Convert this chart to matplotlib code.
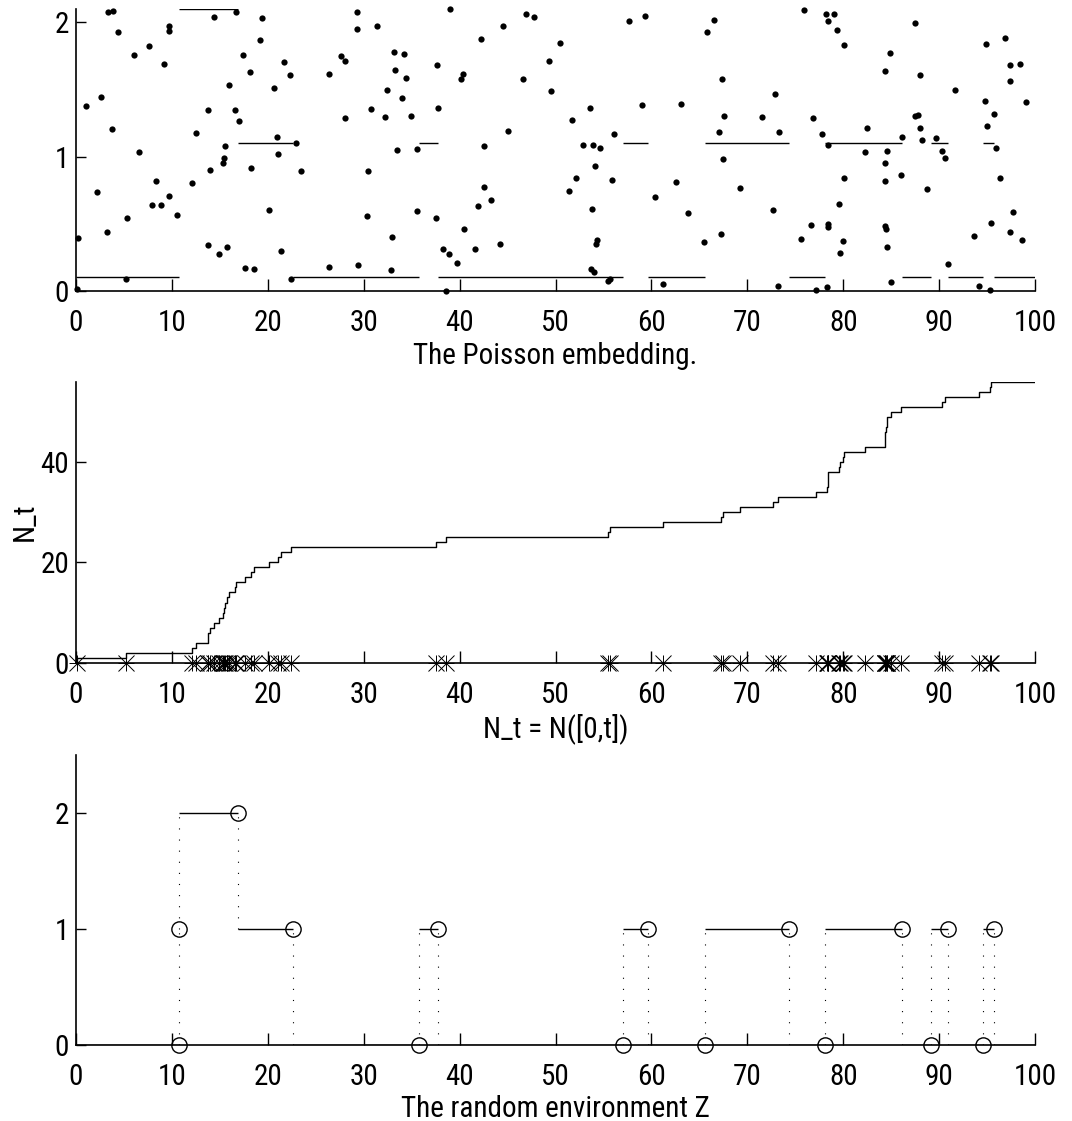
import numpy as np
import matplotlib
matplotlib.use("Agg")
import matplotlib.pyplot as plt

plt.rcParams['font.family'] = ['Liberation Sans Narrow', 'Roboto Condensed', 'Liberation Sans', 'DejaVu Sans']

# ---------------- data ----------------
# Poisson embedding points (t, height)
pts_t = [0.1, 0.21, 1.01, 2.16, 2.61, 3.27, 3.29, 3.90, 3.76, 4.35, 5.25, 5.36, 6.09, 6.57, 7.65,
         7.93, 8.38, 8.90, 9.22, 9.67, 9.71, 9.71, 10.50, 12.14, 12.52, 13.74, 13.77, 13.98,
         14.40, 14.88, 15.37, 15.44, 15.58, 15.79, 15.93, 16.62, 16.73, 17.04, 17.39, 17.60,
         18.19, 18.26, 18.57, 19.23, 19.41, 20.17, 20.66, 20.94, 21.07, 21.42, 21.70, 22.33,
         22.43, 22.99, 23.51,
         26.33, 26.37, 27.58, 28.00, 28.10, 29.25, 29.35, 29.42, 30.39, 30.43, 30.71, 31.37,
         32.27, 32.38, 32.86, 32.97, 33.11, 33.28, 33.52, 33.98, 34.22, 34.43, 34.92, 35.54,
         35.54, 37.59, 37.63, 37.77, 38.25, 38.60, 38.88, 39.05, 39.75, 40.13, 40.37, 40.48,
         41.63, 41.87, 42.25, 42.53, 42.56, 43.23, 44.17, 44.51, 45.07, 46.60, 46.95, 47.75,
         49.35, 49.56, 50.50,
         51.43, 51.68, 52.10, 52.86, 53.59, 53.73, 53.80, 53.90, 54.04, 54.07, 54.18, 54.36,
         54.67, 55.47, 55.68, 55.92, 56.09, 57.66, 59.02, 59.33, 60.41, 61.21, 62.53, 63.09,
         63.81, 65.48, 65.83, 66.56, 67.05, 67.26, 67.36, 67.43, 67.57, 69.24, 71.50, 72.72,
         72.89, 73.20, 73.34, 75.62, 75.90,
         76.61, 76.86, 77.13, 77.76, 78.25, 78.28, 78.42, 78.42, 78.42, 78.45, 79.05, 79.39,
         79.60, 79.71, 79.99, 80.09, 80.09, 82.25, 82.45, 84.40, 84.40, 84.37, 84.51, 84.40,
         84.54, 84.58, 84.92, 84.96, 86.00, 86.18, 87.46, 87.46, 87.77, 87.98, 88.02, 88.26,
         88.78, 89.65, 90.28, 90.66, 90.94, 91.64, 93.62, 94.14, 94.77, 94.94, 94.97, 95.29,
         95.39, 95.77, 95.91, 96.40, 96.82, 97.34, 97.38, 97.41, 97.72, 98.48, 98.63, 99.11]
pts_y = [0.01, 0.395, 1.379, 0.735, 1.446, 0.435, 2.077, 2.085, 1.205, 1.925, 0.085, 0.539, 1.759,
         1.034, 1.821, 0.641, 0.817, 0.641, 1.689, 0.706, 1.970, 1.935, 0.564, 0.800, 1.177,
         0.343, 1.349, 0.897, 2.042, 0.273, 0.954, 0.986, 1.081, 0.328, 1.530, 1.349, 2.080,
         1.267, 1.756, 0.167, 1.630, 0.917, 0.162, 1.866, 2.032, 0.604, 1.508, 1.148, 1.016,
         0.296, 1.707, 1.610, 0.085, 1.100, 0.894,
         1.612, 0.177, 1.751, 1.712, 1.287, 1.953, 2.077, 0.189, 0.557, 0.890, 1.354, 1.972,
         1.292, 1.493, 0.157, 0.398, 1.776, 1.642, 1.046, 1.433, 1.761, 1.587, 1.304, 1.053,
         0.591, 0.539, 1.682, 1.361, 0.313, 0.000, 0.273, 2.099, 0.209, 1.580, 1.612, 0.457,
         0.313, 0.629, 1.873, 1.081, 0.775, 0.678, 0.346, 1.972, 1.188, 1.575, 2.064, 2.040,
         1.709, 1.488, 1.846,
         0.745, 1.272, 0.837, 1.086, 1.364, 0.159, 0.606, 1.089, 0.137, 0.927, 0.348, 0.378,
         1.063, 0.075, 0.090, 0.822, 1.165, 2.007, 1.384, 2.047, 0.696, 0.052, 0.807, 1.389,
         0.581, 0.360, 1.930, 2.015, 1.180, 0.422, 1.575, 0.984, 1.299, 0.768, 1.294, 0.604,
         1.463, 0.033, 1.183, 0.383, 2.094,
         0.492, 1.284, 0.008, 1.170, 2.059, 0.025, 2.010, 1.083, 0.472, 0.500, 2.062, 1.940,
         0.649, 0.281, 0.368, 1.828, 0.837, 1.031, 1.212, 1.640, 0.817, 0.480, 0.462, 0.951,
         1.043, 0.326, 1.769, 0.065, 0.860, 1.148, 1.992, 1.304, 1.307, 1.607, 1.212, 1.125,
         0.758, 1.140, 1.043, 0.989, 0.201, 1.498, 0.405, 0.035, 1.416, 1.836, 1.227, 0.008,
         0.502, 1.319, 1.063, 0.842, 1.885, 1.684, 1.565, 0.440, 0.586, 1.687, 0.375, 1.404]

# Random environment Z: change times and values on each interval
env_breaks = [0, 10.70, 10.78, 16.88, 22.65, 35.78, 37.70, 57.00, 59.62, 65.55, 74.30,
              78.10, 86.15, 89.20, 90.90, 94.60, 95.70, 100]
env_vals = [0, 1, 2, 1, 0, 1, 0, 1, 0, 1, 0, 1, 0, 1, 0, 1, 0]
base_rate = 0.1

x_ticks = [0, 10, 20, 30, 40, 50, 60, 70, 80, 90, 100]

# ---------------- derived ----------------
pts_t_a = np.array(pts_t)
pts_y_a = np.array(pts_y)
brk = np.array(env_breaks)
vals = np.array(env_vals, dtype=float)
idx = np.clip(np.searchsorted(brk, pts_t_a, side='right') - 1, 0, len(vals) - 1)
accepted = pts_y_a < vals[idx] + base_rate
events = np.sort(pts_t_a[accepted])

# ---------------- figure ----------------
fig = plt.figure(figsize=(10.72, 11.21), dpi=100)
L, W = 0.0709, 0.8946
ax1 = fig.add_axes([L, 0.7407, W, 0.2513])
ax2 = fig.add_axes([L, 0.4088, W, 0.2507])
ax3 = fig.add_axes([L, 0.0678, W, 0.2591])

FS = 21
for ax in (ax1, ax2, ax3):
    for s in ('top', 'right'):
        ax.spines[s].set_visible(False)
    for s in ('left', 'bottom'):
        ax.spines[s].set_linewidth(1.2)
    ax.set_xlim(0, 100)
    ax.set_xticks(x_ticks)
    ax.tick_params(axis='x', direction='in', length=9, width=1.0, labelsize=FS, pad=13)
    ax.tick_params(axis='y', direction='in', length=7, width=1.0, labelsize=FS, pad=5)

# Top: Poisson embedding
ax1.plot(pts_t_a, pts_y_a, 'o', color='black', ms=4.5, mew=0, clip_on=False, zorder=3)
ax1.hlines(vals + base_rate, brk[:-1], brk[1:], colors='black', lw=1.0)
ax1.set_ylim(0, 2.1)
ax1.set_yticks([0, 1, 2])
ax1.set_xlabel('The Poisson embedding.', fontsize=FS, labelpad=4)

# Middle: counting process
n_steps = np.arange(0, len(events) + 1)
xs = np.concatenate([[0], events, [100]])
ys = np.concatenate([n_steps, [len(events)]])
ax2.step(xs, ys, where='post', color='black', lw=1.0)
ax2.plot(events, np.zeros_like(events), '+', color='black', ms=12, mew=0.7, clip_on=False)
ax2.plot(events, np.zeros_like(events), 'x', color='black', ms=11, mew=0.7, clip_on=False)
ax2.set_ylim(0, len(events))
ax2.set_yticks([0, 20, 40])
ax2.set_xlabel('N_t = N([0,t])', fontsize=FS, labelpad=3)
ax2.set_ylabel('N_t', fontsize=FS, labelpad=1)

# Bottom: random environment
ax3.hlines(vals, brk[:-1], brk[1:], colors='black', lw=1.0)
for i in range(len(vals) - 1):
    xb = brk[i + 1]
    lo, hi = min(vals[i], vals[i + 1]), max(vals[i], vals[i + 1])
    ax3.plot([xb, xb], [lo, hi], color='black', lw=0.8, dashes=(1, 9))
ax3.plot(brk[1:-1], vals[:-1], 'o', mfc='none', mec='black', ms=11, mew=1.0, clip_on=False)
ax3.set_ylim(0, 2.5)
ax3.set_yticks([0, 1, 2])
ax3.set_xlabel('The random environment Z', fontsize=FS, labelpad=3)

fig.savefig('out.png', dpi=100)
